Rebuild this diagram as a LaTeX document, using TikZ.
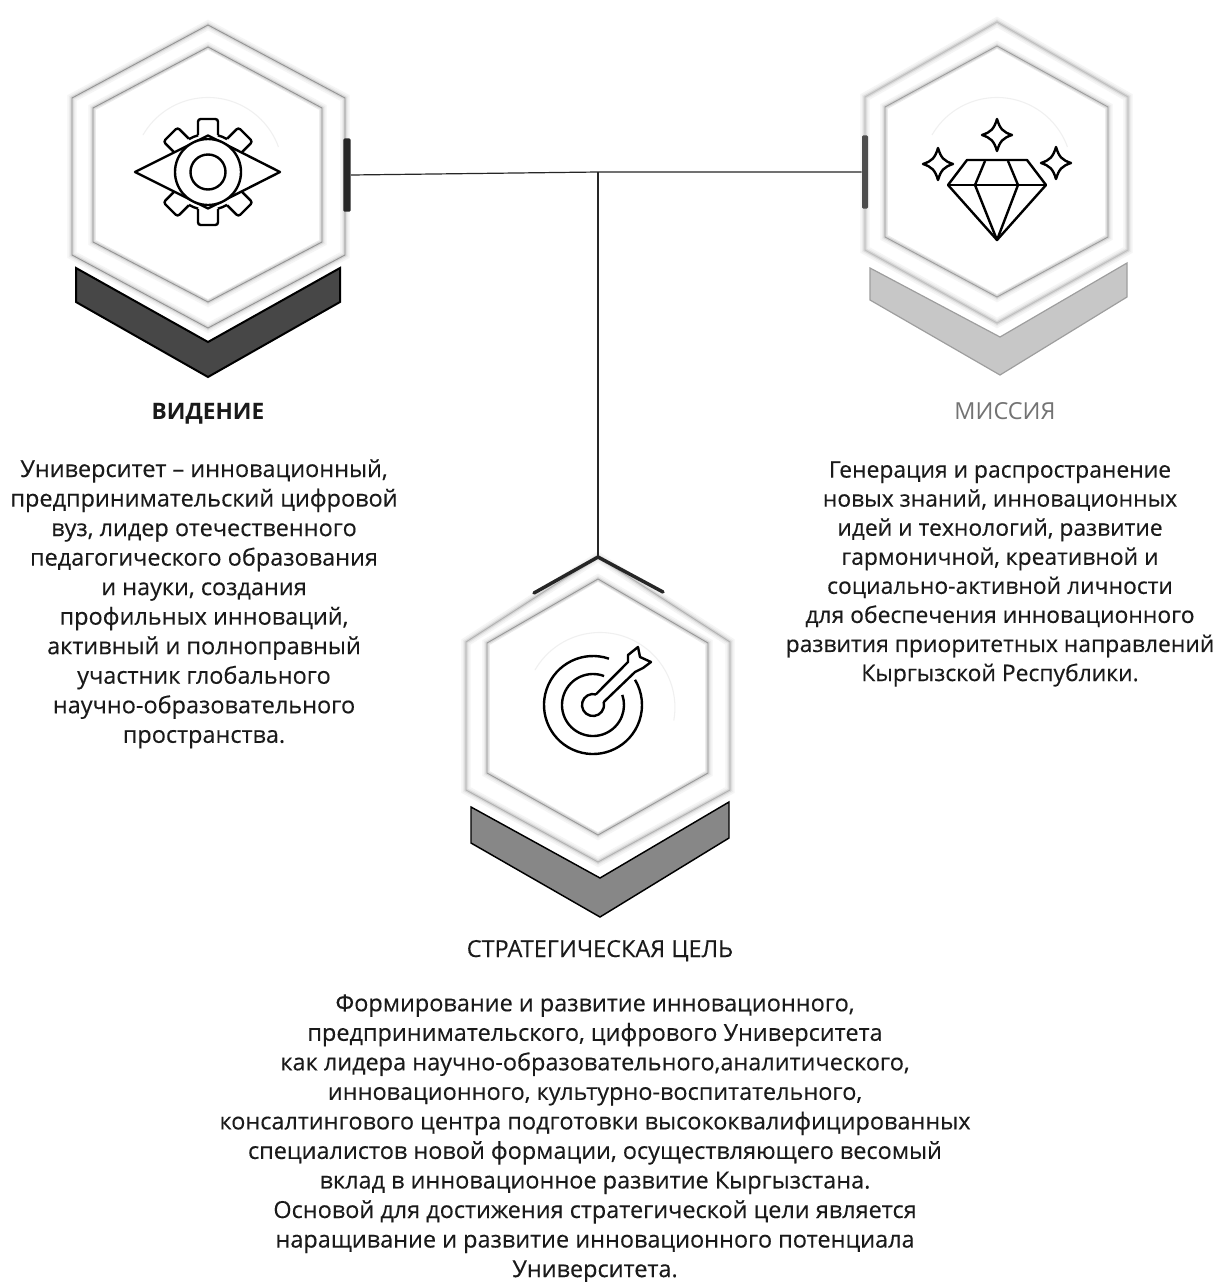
\documentclass[tikz,border=0pt]{standalone}
\usepackage{fontspec}
\setmainfont{Open Sans}[FakeBold=0.25]
\newfontfamily\plainfont{Open Sans}
\usetikzlibrary{calc}
\definecolor{ink}{HTML}{1A1A1A}
\tikzset{
  iconline/.style={draw=black,line width=1.8pt,line join=round},
  link/.style={draw=black!85,line width=.9pt},
  tab/.style={fill=#1,draw=none,rounded corners=1pt,inner sep=0pt},
  body/.style={text=ink,align=center,inner sep=0pt,font=\fontsize{17.6pt}{22.15pt}\selectfont},
  head/.style={text=ink,inner sep=0pt,anchor=base,font=\fontsize{17.6pt}{20pt}\selectfont},
}
% softhex: cx, top y, left x, right x, upper y, lower y, bottom y, darkness of the core
\newcommand{\softhex}[8]{%
  \foreach \w/\c in {7pt/4,4.5pt/8,2.5pt/16}{\draw[line width=\w,black!\c,line join=miter]
    (#1,#2)--(#4,#5)--(#4,#6)--(#1,#7)--(#3,#6)--(#3,#5)--cycle;}
  \draw[line width=.7pt,black!#8,line join=miter]
    (#1,#2)--(#4,#5)--(#4,#6)--(#1,#7)--(#3,#6)--(#3,#5)--cycle;}
\begin{document}
\begin{tikzpicture}[x=.75pt,y=-.75pt]
\useasboundingbox (0,0) rectangle (1217,1282);
\fill[white] (0,0) rectangle (1217,1282);

% ---- vision hexagon
\softhex{208}{25}{72}{345}{98}{255}{328}{42}
\softhex{208}{47}{93}{322}{108}{242}{302}{42}
\fill[white] (96,110) -- (208,50) -- (319,110) -- (319,240) -- (208,299) -- (96,240) -- cycle;
\draw[black!6,line width=.8pt] (143,135) arc[start angle=150,end angle=20,x radius=75,y radius=-75];
\filldraw[fill=black!72,draw=black,line width=1.5pt,line join=miter]
  (76,268)--(208,342)--(340,268)--(340,302)--(208,377)--(76,302)--cycle;
\node[tab=black!85,minimum width=5.5pt,minimum height=55pt] (visiontab) at (347,175) {};

% ---- mission hexagon
\softhex{997}{22}{865}{1128}{97}{250}{323}{25}
\softhex{997}{46}{885}{1108}{107}{237}{297}{38}
\fill[white] (997,49) -- (1105,109) -- (1105,235) -- (997,294) -- (888,235) -- (888,109) -- cycle;
\draw[black!6,line width=.8pt] (932,135) arc[start angle=150,end angle=20,x radius=75,y radius=-75];
\filldraw[fill=black!22,draw=black!38,line width=.9pt,line join=miter]
  (870,268)--(1000,337)--(1127,263)--(1127,297)--(1000,375)--(870,300)--cycle;
\node[tab=black!70,minimum width=4.5pt,minimum height=55pt] (missiontab) at (865,172) {};

% ---- goal hexagon
\softhex{598}{557}{466}{730}{642}{790}{862}{30}
\softhex{598}{579}{487}{708}{643}{773}{835}{40}
\fill[white] (598,582) -- (705,645) -- (705,771) -- (598,832) -- (490,771) -- (490,645) -- cycle;
\draw[black!6,line width=.8pt] (535,670) arc[start angle=150,end angle=-10,x radius=75,y radius=-75];
\filldraw[fill=black!47,draw=black,line width=1.1pt,line join=miter]
  (471,807)--(600,878)--(729,802)--(729,838)--(600,917)--(471,843)--cycle;
\draw[black!85,line width=2.6pt,line cap=round,line join=miter] (534,593)--(598,557)--(663,592);
\coordinate (goaltop) at (598,557);

% ---- connectors
\coordinate (junction) at (598,172);
\draw[link] (visiontab.east) -- (junction) -- (missiontab.west);
\draw[link] (junction) -- (goaltop);

% ---- eye and gear icon
\begin{scope}[shift={(208,172)},yscale=-1]
  \foreach \a in {45,90,135,225,270,315}{
    \draw[iconline,rotate=\a-90,rounded corners=2pt] (-10,37)--(-10,53)--(10,53)--(10,37);
  }
  \foreach \s/\e in {75/60,120/105,255/240,300/285}{
    \draw[iconline] (\s:38) arc[start angle=\s,end angle=\e,radius=38];
  }
  \filldraw[iconline,fill=white] (-73,0)--(0,36.5)--(72,0)--(0,-36.5)--cycle;
  \filldraw[iconline,fill=white] (0,0) circle[radius=33];
  \draw[iconline] (0,0) circle[radius=17.5];
\end{scope}

% ---- diamond icon
\begin{scope}[iconline]
  \draw (967,160)--(1027,160)--(1046,185)--(997,240)--(948,185)--cycle;
  \draw (948,185)--(1046,185);
  \draw (975,185)--(985,161) (1018,185)--(1008,161);
  \draw (975,185)--(997,240)--(1018,185);
  \foreach \cx/\cy in {997/135,938/164,1056/163}{
    \draw (\cx,\cy-16) .. controls (\cx+3,\cy-6) and (\cx+6,\cy-3) .. (\cx+15,\cy)
      .. controls (\cx+6,\cy+3) and (\cx+3,\cy+6) .. (\cx,\cy+16)
      .. controls (\cx-3,\cy+6) and (\cx-6,\cy+3) .. (\cx-15,\cy)
      .. controls (\cx-6,\cy-3) and (\cx-3,\cy-6) .. (\cx,\cy-16) -- cycle;
  }
\end{scope}

% ---- target icon
\begin{scope}[shift={(593,705)},yscale=-1]
  \draw[iconline] (71:49) arc[start angle=71,end angle=391,radius=49];
  \draw[iconline] (69:31) arc[start angle=69,end angle=379,radius=31];
  \draw[iconline] (75:11) arc[start angle=75,end angle=375,radius=11];
  \draw[iconline] (75:11) -- (35,43) -- (35,50) -- (45,58) -- (47,48) -- (58,43) -- (50,37) -- (42,33) -- (15:11);
\end{scope}

% ---- texts
\node[head,font=\plainfont\bfseries\fontsize{17pt}{20pt}\selectfont] (visionhead) at (208,419) {ВИДЕНИЕ};
\node[head,text=black!55,font=\plainfont\fontsize{17.6pt}{20pt}\selectfont] (missionhead) at (1005,419) {МИССИЯ};
\node[head] (goalhead) at (600,957) {СТРАТЕГИЧЕСКАЯ ЦЕЛЬ};
\node[body,anchor=north] (visiontext) at (204,459) {Университет – инновационный,\\предпринимательский цифровой\\вуз, лидер отечественного\\педагогического образования\\и науки, создания\\профильных инноваций,\\активный и полноправный\\участник глобального\\научно-образовательного\\пространства.};
\node[body,anchor=north,font=\fontsize{17.15pt}{21.8pt}\selectfont] (missiontext) at (1000,461) {Генерация и распространение\\новых знаний, инновационных\\идей и технологий, развитие\\гармоничной, креативной и\\социально-активной личности\\для обеспечения инновационного\\развития приоритетных направлений\\Кыргызской Республики.};
\node[body,anchor=north] (goaltext) at (595,994) {Формирование и развитие инновационного,\\предпринимательского, цифрового Университета\\как лидера научно-образовательного,аналитического,\\инновационного, культурно-воспитательного,\\консалтингового центра подготовки высококвалифицированных\\специалистов новой формации, осуществляющего весомый\\вклад в инновационное развитие Кыргызстана.\\Основой для достижения стратегической цели является\\наращивание и развитие инновационного потенциала\\Университета.};
\end{tikzpicture}
\end{document}
